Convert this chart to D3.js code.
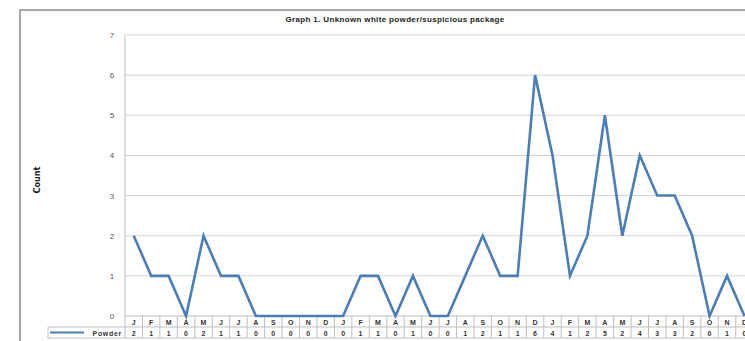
<!DOCTYPE html>
<html>
<head>
<meta charset="utf-8">
<script src="https://cdn.jsdelivr.net/npm/d3@7"></script>
<style>
  html, body { margin: 0; padding: 0; background: #fff; overflow: hidden; }
  text { font-family: "Liberation Sans", Arial, sans-serif; }
</style>
</head>
<body>
<div id="chart"></div>
<script>
// three years of monthly counts
var months = ["J","F","M","A","M","J","J","A","S","O","N","D",
              "J","F","M","A","M","J","J","A","S","O","N","D",
              "J","F","M","A","M","J","J","A","S","O","N","D"]
var powder = [2,1,1,0,2,1,1,0,0,0,0,0,
              0,1,1,0,1,0,0,1,2,1,1,6,
              4,1,2,5,2,4,3,3,2,0,1,0]
var yTicks = [0,1,2,3,4,5,6,7]
var seriesName = "Powder"
var title = "Graph 1. Unknown white powder/suspicious package"

var W = 770, H = 341
var plotLeft = 125, colW = 17.45, plotTop = 35, plotBottom = 316
var rowH = 11

var svg = d3.select("#chart").append("svg")
    .attr("width", W)
    .attr("height", H)

var x = d3.scaleBand()
    .domain(d3.range(months.length))
    .range([plotLeft, plotLeft + colW * months.length])

var y = d3.scaleLinear().domain([0, 7]).range([plotBottom, plotTop])

// outer frame
svg.append("path")
    .attr("d", "M20," + H + "V10H" + W)
    .attr("fill", "none")
    .attr("stroke", "#8c8c8c")
    .attr("stroke-width", 1.5)

svg.append("text")
    .attr("x", 395)
    .attr("y", 22)
    .attr("text-anchor", "middle")
    .style("font-size", "8px")
    .style("font-weight", "bold")
    .style("letter-spacing", "0.35px")
    .attr("fill", "#222")
    .text(title)

// gridlines
svg.append("g").selectAll("line")
    .data(yTicks.filter(function(d) { return d > 0 }))
    .enter().append("line")
    .attr("x1", plotLeft)
    .attr("x2", W)
    .attr("y1", function(d) { return y(d) })
    .attr("y2", function(d) { return y(d) })
    .attr("stroke", "#d4d4d4")
    .attr("stroke-width", 1)

svg.append("line")
    .attr("x1", plotLeft).attr("x2", plotLeft)
    .attr("y1", plotTop).attr("y2", plotBottom)
    .attr("stroke", "#bdbdbd")

svg.append("g").selectAll("text")
    .data(yTicks)
    .enter().append("text")
    .attr("x", 112)
    .attr("y", function(d) { return y(d) + 3 })
    .attr("text-anchor", "middle")
    .style("font-size", "8px")
    .attr("fill", "#555")
    .text(function(d) { return d })

svg.append("text")
    .attr("transform", "translate(40,180)rotate(-90)")
    .attr("text-anchor", "middle")
    .style("font-family", "'Liberation Sans Narrow', 'DejaVu Sans Condensed', sans-serif")
    .style("font-size", "9px")
    .style("font-weight", "bold")
    .attr("fill", "#222")
    .text("Count")

// data table under the axis
var tableRight = plotLeft + colW * months.length
var tbl = svg.append("g").attr("stroke", "#bfbfbf").attr("stroke-width", 1)
tbl.append("line").attr("x1", plotLeft).attr("x2", tableRight).attr("y1", plotBottom).attr("y2", plotBottom)
tbl.append("line").attr("x1", 48).attr("x2", tableRight).attr("y1", plotBottom + rowH).attr("y2", plotBottom + rowH)
tbl.append("line").attr("x1", 48).attr("x2", tableRight).attr("y1", plotBottom + 2 * rowH).attr("y2", plotBottom + 2 * rowH)
tbl.append("line").attr("x1", 48).attr("x2", 48).attr("y1", plotBottom + rowH).attr("y2", plotBottom + 2 * rowH)
tbl.selectAll(".sep")
    .data(d3.range(months.length + 1))
    .enter().append("line")
    .attr("class", "sep")
    .attr("x1", function(i) { return plotLeft + i * colW })
    .attr("x2", function(i) { return plotLeft + i * colW })
    .attr("y1", plotBottom)
    .attr("y2", plotBottom + 2 * rowH)

svg.append("g").selectAll("text")
    .data(months)
    .enter().append("text")
    .attr("x", function(d, i) { return x(i) + x.bandwidth() / 2 })
    .attr("y", plotBottom + 8.5)
    .attr("text-anchor", "middle")
    .style("font-size", "7px")
    .style("font-weight", "bold")
    .attr("fill", "#333")
    .text(function(d) { return d })

svg.append("g").selectAll("text")
    .data(powder)
    .enter().append("text")
    .attr("x", function(d, i) { return x(i) + x.bandwidth() / 2 })
    .attr("y", plotBottom + rowH + 8.5)
    .attr("text-anchor", "middle")
    .style("font-size", "7px")
    .style("font-weight", "bold")
    .attr("fill", "#333")
    .text(function(d) { return d })

svg.append("line")
    .attr("x1", 50).attr("x2", 84)
    .attr("y1", plotBottom + rowH * 1.5).attr("y2", plotBottom + rowH * 1.5)
    .attr("stroke", "#4a7ebb")
    .attr("stroke-width", 2)

svg.append("text")
    .attr("x", 122)
    .attr("y", plotBottom + rowH + 8.5)
    .attr("text-anchor", "end")
    .style("font-size", "7px")
    .style("font-weight", "bold")
    .style("letter-spacing", "0.7px")
    .attr("fill", "#333")
    .text(seriesName)

// the series line
var line = d3.line()
    .x(function(d, i) { return x(i) + x.bandwidth() / 2 })
    .y(function(d) { return y(d) })

svg.append("path")
    .datum(powder)
    .attr("d", line)
    .attr("fill", "none")
    .attr("stroke", "#4a7ebb")
    .attr("stroke-width", 2.6)
</script>
</body>
</html>
